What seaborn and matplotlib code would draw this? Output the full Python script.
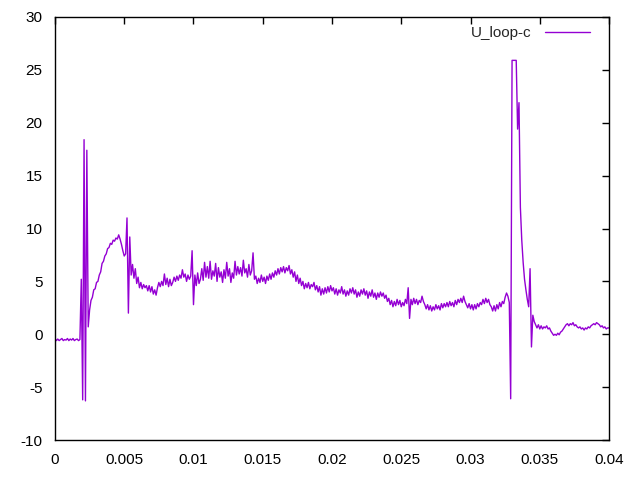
import matplotlib
matplotlib.use('Agg')
import matplotlib.pyplot as plt
import seaborn as sns
import numpy as np
import pandas as pd

# U_loop-c signal, one sample every 0.1 ms
dt = 1e-4

# 0 .. 1.8 ms : idle, slightly negative
u_idle = [-0.4, -0.6, -0.45, -0.6, -0.5, -0.4, -0.6, -0.5, -0.55, -0.4,
          -0.6, -0.45, -0.55, -0.4, -0.6, -0.5, -0.45, -0.6, -0.5]
# switching spikes around 2 ms
u_switch = [5.2, -6.2, 18.4, -6.3, 17.4, 0.7]
# rise up to the first maximum (~4.7 ms)
u_rise = [2.3, 3.2, 3.5, 4.2, 4.3, 4.9, 5.0, 5.6, 5.9, 6.7,
          6.9, 7.4, 7.6, 8.1, 8.2, 8.6, 8.5, 8.9, 8.8, 9.1,
          9.0, 9.4]
# decay and noisy plateau (4.7 .. 11.4 ms)
u_decay = [9.0, 8.5, 7.9, 7.4, 7.6, 11.0, 2.0, 9.2, 5.6, 6.6,
           5.3, 6.2, 4.8, 5.4, 4.4, 4.9, 4.3, 4.7, 4.4, 4.6,
           4.1, 4.6, 4.0, 4.5, 3.8, 4.2, 3.7, 4.4, 4.9, 4.5,
           5.0, 4.6, 5.7, 4.7, 5.3, 4.5, 5.2, 4.6, 4.9, 5.4,
           5.0, 5.5, 5.1, 5.6, 5.3, 6.1, 5.4, 5.7, 5.0, 5.6,
           5.2, 5.5, 7.9, 2.8, 5.6, 4.6, 5.8, 4.8, 5.2, 6.2,
           5.1, 6.8, 5.4, 6.4, 5.3, 6.9, 5.2, 6.0]
# 11.5 .. 19.1 ms : plateau with hump
u_mid = [5.5, 6.7, 5.0, 6.3, 5.4, 5.9, 4.9, 6.1, 5.3, 6.8,
         5.5, 6.2, 4.9, 5.8, 5.3, 6.9, 5.6, 6.4, 5.7, 6.3,
         5.5, 7.0, 5.8, 6.2, 5.4, 6.6, 5.6, 6.0, 7.7, 5.2,
         5.5, 4.8, 5.3, 4.9, 5.6, 5.0, 5.4, 4.8, 5.5, 5.1,
         5.7, 5.2, 5.8, 5.4, 6.0, 5.6, 6.2, 5.7, 6.3, 5.9,
         6.4, 5.8, 6.3, 6.0, 6.5, 5.7, 6.1, 5.4, 5.9, 5.0,
         5.6, 4.8, 5.3, 4.6, 5.0, 4.3, 4.8, 4.4, 4.9, 4.3,
         4.7, 4.5, 4.9, 4.2, 4.6, 4.0, 4.5]
# 19.2 .. 32.8 ms : slow decline
u_tail = [3.7, 4.3, 3.8, 4.4, 3.9, 4.5, 4.0, 4.6, 4.1, 4.4,
          3.8, 4.3, 3.7, 4.2, 3.9, 4.5, 3.8, 4.2, 3.6, 4.1,
          3.7, 4.3, 3.9, 4.4, 3.8, 4.2, 3.5, 4.0, 3.6, 4.2,
          3.8, 4.3, 3.7, 4.1, 3.4, 4.0, 3.6, 4.2, 3.5, 3.9,
          3.3, 3.9, 3.5, 4.0, 3.6, 3.9, 3.4, 3.7, 3.1, 3.4,
          2.8, 3.2, 2.6, 3.1, 2.7, 3.3, 2.8, 3.2, 2.6, 3.0,
          2.7, 3.3, 2.9, 4.4, 1.5, 3.3, 2.8, 3.4, 2.9, 3.3,
          2.8, 3.2, 3.0, 3.6, 3.1, 2.8, 2.4, 2.8, 2.3, 2.7,
          2.2, 2.6, 2.3, 2.8, 2.4, 2.7, 2.3, 2.9, 2.5, 2.9,
          2.6, 3.0, 2.6, 3.1, 2.7, 3.0, 2.6, 3.2, 2.8, 3.3,
          3.0, 3.4, 3.0, 3.6, 3.1, 2.8, 2.5, 2.9, 2.4, 2.8,
          2.3, 2.8, 2.4, 2.9, 2.6, 3.0, 2.8, 3.3, 2.9, 3.4,
          3.0, 3.3, 2.8, 2.6, 2.2, 2.7, 2.2, 2.8, 2.4, 3.0,
          2.6, 3.1, 2.9, 3.5, 3.9, 3.6, 3.0]
# second switching event (32.9 .. 34.6 ms), clipped at ~26
u_burst = [-6.1, 25.9, 25.9, 25.9, 25.9, 19.4, 21.9, 12.0, 8.9, 6.8,
           5.2, 4.2, 3.3, 2.6, 6.2, -1.2, 1.8, 1.2]
# 34.7 .. 40 ms : settling around 0.5
u_end = [0.9, 0.6, 0.9, 0.5, 0.8, 0.5, 0.7, 0.6, 0.8, 0.5,
         0.6, 0.3, 0.1, -0.1, 0.0, -0.1, 0.1, -0.05, 0.2, 0.3,
         0.5, 0.7, 0.9, 1.0, 0.8, 1.0, 0.9, 1.1, 0.8, 0.9,
         0.7, 0.6, 0.7, 0.5, 0.6, 0.4, 0.6, 0.5, 0.7, 0.6,
         0.8, 0.9, 1.0, 0.9, 1.1, 1.0, 0.9, 0.7, 0.8, 0.6,
         0.7, 0.5, 0.6, 0.6]

u = u_idle + u_switch + u_rise + u_decay + u_mid + u_tail + u_burst + u_end
t = np.arange(len(u)) * dt
df = pd.DataFrame({'t': t, 'U_loop-c': u})

x_ticks = [0, 0.005, 0.01, 0.015, 0.02, 0.025, 0.03, 0.035, 0.04]
x_labels = ['0', '0.005', '0.01', '0.015', '0.02', '0.025', '0.03', '0.035', '0.04']
y_ticks = [-10, -5, 0, 5, 10, 15, 20, 25, 30]

sns.set_style('white')
plt.rcParams['font.family'] = ['Liberation Sans', 'DejaVu Sans']
plt.rcParams['axes.unicode_minus'] = False

fig = plt.figure(figsize=(6.4, 4.8), dpi=100)
ax = fig.add_axes([0.0859, 0.0833, 0.8657, 0.8813])

sns.lineplot(data=df, x='t', y='U_loop-c', ax=ax, color='#9400D3',
             linewidth=1.0, estimator=None, sort=False, label='U_loop-c')

ax.set_xlim(0, 0.04)
ax.set_ylim(-10, 30)
ax.set_xticks(x_ticks, labels=x_labels)
ax.set_yticks(y_ticks)
ax.set_xlabel('')
ax.set_ylabel('')
for s in ax.spines.values():
    s.set_color('black')
    s.set_linewidth(1)
ax.tick_params(direction='in', top=True, right=True, length=5, width=1,
               labelsize=11, colors='black')
ax.tick_params(axis='x', pad=9.5)
ax.tick_params(axis='y', pad=9)

ax.legend(loc='center right', bbox_to_anchor=(0.9219, 1 - 33 / 480),
          bbox_transform=fig.transFigure, frameon=False, markerfirst=False,
          handlelength=2.95, handletextpad=0.85, borderpad=0,
          borderaxespad=0, fontsize=11)

fig.savefig('out.png', dpi=100)
